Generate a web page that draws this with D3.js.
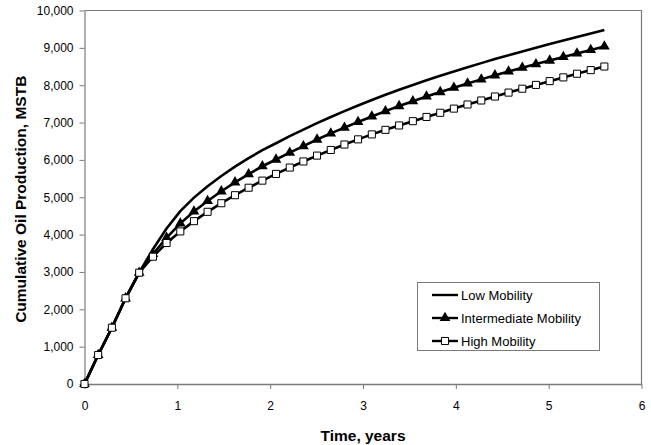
<!DOCTYPE html>
<html>
<head>
<meta charset="utf-8">
<script src="https://cdn.jsdelivr.net/npm/d3@7"></script>
<style>
  html, body { margin: 0; padding: 0; background: #fff; }
  svg { display: block; font-family: "Liberation Sans", Arial, sans-serif; }
</style>
</head>
<body>
<svg id="chart" width="651" height="445"></svg>
<script>
// ---- data ----
const timeYears = [0, 0.147, 0.295, 0.442, 0.589, 0.737, 0.884, 1.032, 1.179, 1.326,
  1.474, 1.621, 1.768, 1.916, 2.063, 2.211, 2.358, 2.505, 2.653, 2.800,
  2.947, 3.095, 3.242, 3.389, 3.537, 3.684, 3.832, 3.979, 4.126, 4.274,
  4.421, 4.568, 4.716, 4.863, 5.011, 5.158, 5.305, 5.453, 5.600];

const lowMobility = [0, 776, 1507, 2295, 2980, 3610, 4165, 4630, 4990, 5295,
  5570, 5820, 6045, 6260, 6445, 6635, 6810, 6985, 7150, 7305,
  7455, 7602, 7745, 7880, 8008, 8132, 8252, 8368, 8481, 8591,
  8700, 8803, 8905, 9005, 9100, 9195, 9290, 9384, 9478];

const intermediateMobility = [0, 776, 1507, 2295, 2980, 3480, 3915, 4300, 4620, 4900,
  5160, 5400, 5620, 5830, 6010, 6195, 6370, 6545, 6710, 6865,
  7015, 7162, 7305, 7442, 7572, 7697, 7817, 7933, 8046, 8156,
  8265, 8368, 8470, 8565, 8660, 8755, 8850, 8944, 9038];

const highMobility = [0, 776, 1507, 2295, 2980, 3408, 3775, 4085, 4360, 4610,
  4840, 5055, 5255, 5445, 5625, 5795, 5958, 6115, 6266, 6411,
  6550, 6683, 6805, 6922, 7037, 7150, 7262, 7373, 7483, 7591,
  7697, 7802, 7906, 8008, 8109, 8209, 8307, 8404, 8500];

const xTicks = [0, 1, 2, 3, 4, 5, 6];
const yTicks = [0, 1000, 2000, 3000, 4000, 5000, 6000, 7000, 8000, 9000, 10000];
const seriesNames = ["Low Mobility", "Intermediate Mobility", "High Mobility"];
const xTitle = "Time, years";
const yTitle = "Cumulative Oil Production, MSTB";

// ---- chart ----
const svg = d3.select("#chart");
const L = 84.5, R = 641.5, T = 10.5, B = 384;
const x = d3.scaleLinear().domain([0, 6]).range([L, R]);
const y = d3.scaleLinear().domain([0, 10000]).range([B, T]);
const axisColor = "#7a7a7a";

// plot frame (top & right)
svg.append("path")
  .attr("d", `M${L},${T}H${R}V${B}`)
  .attr("fill", "none").attr("stroke", axisColor).attr("stroke-width", 1.2);

// x axis
const gx = svg.append("g").attr("transform", `translate(0,${B})`)
  .call(d3.axisBottom(x).tickValues(xTicks).tickFormat(d3.format("d")).tickSizeInner(5).tickSizeOuter(0).tickPadding(12));
gx.select(".domain").attr("stroke", axisColor).attr("stroke-width", 1.5);
gx.selectAll(".tick line").attr("stroke", axisColor);
gx.selectAll(".tick text").attr("font-size", 12).attr("fill", "#000")
  .attr("font-family", "Liberation Sans, Arial, sans-serif");

// y axis
const gy = svg.append("g").attr("transform", `translate(${L},0)`)
  .call(d3.axisLeft(y).tickValues(yTicks).tickFormat(d3.format(",")).tickSizeInner(5).tickSizeOuter(0).tickPadding(6));
gy.select(".domain").attr("stroke", axisColor).attr("stroke-width", 1.2);
gy.selectAll(".tick line").attr("stroke", axisColor);
gy.selectAll(".tick text").attr("font-size", 12).attr("fill", "#000")
  .attr("font-family", "Liberation Sans, Arial, sans-serif");

// titles
svg.append("text").attr("x", (L + R) / 2).attr("y", 441)
  .attr("text-anchor", "middle").attr("font-size", 15.5).attr("font-weight", "bold")
  .text(xTitle);
svg.append("text")
  .attr("transform", `translate(26,${(T + B) / 2 + 2}) rotate(-90)`)
  .attr("text-anchor", "middle").attr("font-size", 15.5).attr("font-weight", "bold")
  .text(yTitle);

// lines
const line = d3.line().x((d, i) => x(timeYears[i])).y(d => y(d));
const lineG = svg.append("g");
[lowMobility, intermediateMobility, highMobility].forEach(s => {
  lineG.append("path").datum(s).attr("d", line)
    .attr("fill", "none").attr("stroke", "#000").attr("stroke-width", 2.6)
    .attr("stroke-linejoin", "round");
});

// markers
const tri = d3.symbol().type(d3.symbolTriangle).size(50);
const sq = d3.symbol().type(d3.symbolSquare).size(50);
svg.append("g").selectAll("path").data(intermediateMobility).join("path")
  .attr("d", tri)
  .attr("transform", (d, i) => `translate(${x(timeYears[i])},${y(d)})`)
  .attr("fill", "#000");
svg.append("g").selectAll("path").data(highMobility).join("path")
  .attr("d", sq)
  .attr("transform", (d, i) => `translate(${x(timeYears[i])},${y(d)})`)
  .attr("fill", "#fff").attr("stroke", "#000").attr("stroke-width", 1);

// legend
const lg = svg.append("g");
lg.append("rect").attr("x", 417.5).attr("y", 282.5).attr("width", 182).attr("height", 68)
  .attr("fill", "#fff").attr("stroke", axisColor).attr("stroke-width", 1);
const rows = [295, 318, 341];
seriesNames.forEach((name, i) => {
  const yy = rows[i];
  lg.append("line").attr("x1", 432).attr("x2", 458).attr("y1", yy).attr("y2", yy)
    .attr("stroke", "#000").attr("stroke-width", 2.4);
  if (i === 1) lg.append("path").attr("d", tri).attr("transform", `translate(445,${yy})`).attr("fill", "#000");
  if (i === 2) lg.append("path").attr("d", sq).attr("transform", `translate(445,${yy})`)
    .attr("fill", "#fff").attr("stroke", "#000").attr("stroke-width", 1);
  lg.append("text").attr("x", 461).attr("y", yy).attr("dy", "0.35em")
    .attr("font-size", 13).text(name);
});
</script>
</body>
</html>
